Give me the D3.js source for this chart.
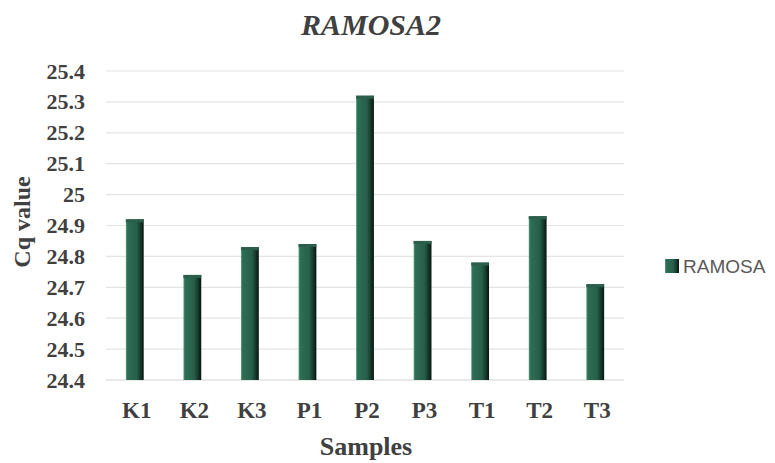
<!DOCTYPE html>
<html>
<head>
<meta charset="utf-8">
<script src="https://cdn.jsdelivr.net/npm/d3@7"></script>
<style>
  html, body { margin: 0; padding: 0; background: #fff; }
  svg { display: block; }
</style>
</head>
<body>
<svg id="chart" width="775" height="463"></svg>
<script>
// Cq values of the RAMOSA2 gene per sample
const samples = ["K1", "K2", "K3", "P1", "P2", "P3", "T1", "T2", "T3"];
const cqValues = [24.92, 24.74, 24.83, 24.84, 25.32, 24.85, 24.78, 24.93, 24.71];
const yTicks = [24.4, 24.5, 24.6, 24.7, 24.8, 24.9, 25, 25.1, 25.2, 25.3, 25.4];
const seriesName = "RAMOSA";
const chartTitle = "RAMOSA2";

const svg = d3.select("#chart");
const serif = "'Liberation Serif', 'DejaVu Serif', serif";
const textColor = "#404040";

const plot = { left: 106, right: 624, top: 71, bottom: 380 };

const x = d3.scaleBand().domain(samples).range([plot.left, plot.right]).paddingInner(0.69).paddingOuter(0.345);
const y = d3.scaleLinear().domain([24.4, 25.4]).range([plot.bottom, plot.top]);

// Bar shading: lit left face fading into a dark right edge
const defs = svg.append("defs");
const grad = defs.append("linearGradient").attr("id", "barGrad").attr("x1", "0").attr("x2", "1").attr("y1", "0").attr("y2", "0");
[["0%", "#5fae8c"], ["8%", "#2f6e56"], ["60%", "#275f4a"], ["80%", "#173d2f"], ["100%", "#07150f"]]
  .forEach(([o, c]) => grad.append("stop").attr("offset", o).attr("stop-color", c));

// Horizontal gridlines
svg.append("g")
  .selectAll("line")
  .data(yTicks.slice(1))
  .join("line")
  .attr("x1", plot.left).attr("x2", plot.right)
  .attr("y1", d => y(d)).attr("y2", d => y(d))
  .attr("stroke", "#e4e4e4").attr("stroke-width", 1.2);

// Baseline
svg.append("line")
  .attr("x1", plot.left).attr("x2", plot.right)
  .attr("y1", y(24.4)).attr("y2", y(24.4))
  .attr("stroke", "#d4d4d4").attr("stroke-width", 1.2);

// Bars
const barData = samples.map((s, i) => ({ s, v: cqValues[i] }));
const bars = svg.append("g");
bars.selectAll("rect.bar")
  .data(barData)
  .join("rect")
  .attr("class", "bar")
  .attr("x", d => x(d.s))
  .attr("width", x.bandwidth())
  .attr("y", d => y(d.v))
  .attr("height", d => y(24.4) - y(d.v))
  .attr("fill", "url(#barGrad)");

// Bar top caps
bars.selectAll("rect.cap")
  .data(barData)
  .join("rect")
  .attr("class", "cap")
  .attr("x", d => x(d.s))
  .attr("width", x.bandwidth())
  .attr("y", d => y(d.v))
  .attr("height", 3)
  .attr("fill", "#2c5e4c");

// Y axis tick labels
const yAxis = d3.axisLeft(y).tickValues(yTicks).tickSize(0).tickPadding(0)
  .tickFormat(d => d3.format("")(+d.toFixed(1)));
const yg = svg.append("g").attr("transform", `translate(85,0)`).call(yAxis);
yg.select(".domain").remove();
yg.selectAll("text")
  .attr("font-family", serif).attr("font-weight", "bold").attr("font-size", 22)
  .attr("fill", textColor);

// X axis tick labels
const xAxis = d3.axisBottom(x).tickSize(0).tickPadding(0);
const xg = svg.append("g").attr("transform", `translate(2,0)`).call(xAxis);
xg.select(".domain").remove();
xg.selectAll("text")
  .attr("y", 418).attr("dy", null)
  .attr("font-family", serif).attr("font-weight", "bold").attr("font-size", 23)
  .attr("fill", textColor);

// Title
svg.append("text")
  .attr("x", 371).attr("y", 35)
  .attr("text-anchor", "middle")
  .attr("font-family", serif).attr("font-weight", "bold").attr("font-style", "italic")
  .attr("font-size", 30).attr("fill", textColor)
  .text(chartTitle);

// Axis titles
svg.append("text")
  .attr("x", 366).attr("y", 455)
  .attr("text-anchor", "middle")
  .attr("font-family", serif).attr("font-weight", "bold")
  .attr("font-size", 26).attr("fill", textColor)
  .text("Samples");

svg.append("text")
  .attr("transform", "translate(30,222) rotate(-90)")
  .attr("text-anchor", "middle")
  .attr("font-family", serif).attr("font-weight", "bold")
  .attr("font-size", 24).attr("fill", textColor)
  .text("Cq value");

// Legend
const lg = svg.append("g").attr("transform", "translate(665,259)");
lg.append("rect").attr("width", 14).attr("height", 14).attr("fill", "url(#barGrad)");
lg.append("text")
  .attr("x", 18).attr("y", 14)
  .attr("font-family", "'Liberation Sans', Arial, sans-serif")
  .attr("font-size", 19).attr("fill", "#595959")
  .text(seriesName);
</script>
</body>
</html>
